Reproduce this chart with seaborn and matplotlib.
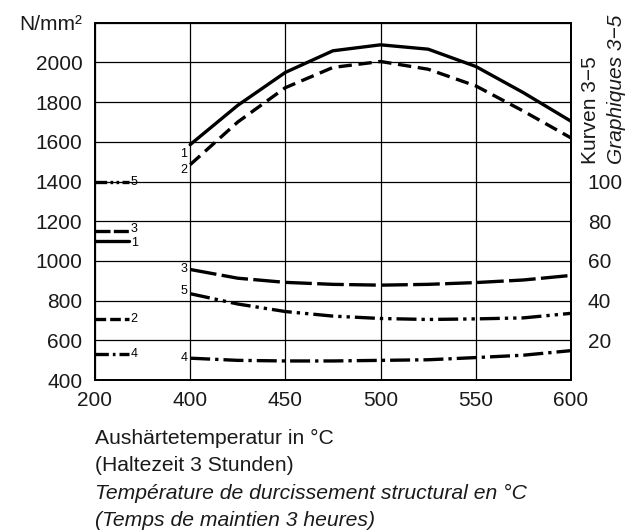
import numpy as np
import matplotlib
matplotlib.use('Agg')
import matplotlib.pyplot as plt
import seaborn as sns

# hardening temperature in degC (holding time 3 h)
temps = [400, 425, 450, 475, 500, 525, 550, 575, 600]

# curves 1-2, read on the left axis (N/mm2)
curve1 = [1586, 1784, 1950, 2059, 2089, 2067, 1980, 1848, 1704]
curve2 = [1485, 1700, 1873, 1975, 2005, 1966, 1882, 1755, 1620]

# curves 3-5, read on the right axis
curve3 = [55.7, 51.3, 49.2, 48.2, 47.8, 48.2, 49.1, 50.4, 52.7]
curve5 = [43.5, 38.3, 34.5, 32.2, 31.0, 30.5, 30.8, 31.3, 33.6]
curve4 = [11.0, 9.9, 9.6, 9.6, 9.9, 10.2, 11.3, 12.5, 14.8]

# starting values, shown as short stubs on the left
start_temps = [200, 272]
start_left = {'1': 1100, '2': 705}
start_right = {'3': 75, '4': 13, '5': 100}

x_ticks = [200, 400, 450, 500, 550, 600]
left_ticks = [400, 600, 800, 1000, 1200, 1400, 1600, 1800, 2000, 2200]
right_ticks = [20, 40, 60, 80, 100]

styles = {
  '1': '-',
  '2': (0, (4, 2)),
  '3': (0, (8, 1.6)),
  '4': (0, (6, 1.5, 1, 1.5)),
  '5': (0, (6, 1.5, 1, 1.5, 1, 1.5)),
}
stub_styles = {
  '1': '-',
  '2': (0, (3.2, 1.2)),
  '3': (0, (4.5, 1)),
  '4': (0, (4, 1.2, 0.8, 1.2)),
  '5': (0, (3.5, 1, 0.8, 1, 0.8, 1)),
}


def fwd(t):
  t = np.asarray(t, dtype=float)
  return np.where(t < 400, (t - 200) / 200, 1 + (t - 400) / 50)


def inv(p):
  p = np.asarray(p, dtype=float)
  return np.where(p < 1, 200 + 200 * p, 400 + 50 * (p - 1))


sns.set_theme(style='white')
plt.rcParams['font.family'] = ['Liberation Sans', 'DejaVu Sans']
plt.rcParams['text.color'] = '#1a1a1a'

fig = plt.figure(figsize=(6.33, 5.3), dpi=100)
ax = fig.add_axes([0.150, 0.283, 0.752, 0.674])
ax.set_xscale('function', functions=(fwd, inv))
ax.set_xlim(200, 600)
ax.set_ylim(400, 2200)
ax2 = ax.twinx()
ax2.set_ylim(0, 180)

lw = 2.4
for name, vals in [('1', curve1), ('2', curve2)]:
  sns.lineplot(x=temps, y=vals, ax=ax, color='black', lw=lw, linestyle=styles[name])
  sns.lineplot(x=start_temps, y=[start_left[name]] * 2, ax=ax, color='black',
               lw=lw, linestyle=stub_styles[name])

for name, vals in [('3', curve3), ('4', curve4), ('5', curve5)]:
  sns.lineplot(x=temps, y=vals, ax=ax2, color='black', lw=lw, linestyle=styles[name])
  sns.lineplot(x=start_temps, y=[start_right[name]] * 2, ax=ax2, color='black',
               lw=lw, linestyle=stub_styles[name])

# curve numbers
lab_kw = dict(fontsize=9, textcoords='offset points', color='black')
ax.annotate('1', (temps[0], curve1[0]), xytext=(-2, -7), ha='right', va='center', **lab_kw)
ax.annotate('2', (temps[0], curve2[0]), xytext=(-2, -4), ha='right', va='center', **lab_kw)
ax2.annotate('3', (temps[0], curve3[0]), xytext=(-2, 0), ha='right', va='center', **lab_kw)
ax2.annotate('5', (temps[0], curve5[0]), xytext=(-2, 2), ha='right', va='center', **lab_kw)
ax2.annotate('4', (temps[0], curve4[0]), xytext=(-2, 0), ha='right', va='center', **lab_kw)
stub_dy = {'1': -1.5, '2': 0, '3': 1.5, '4': 0, '5': 0}
for name, v in start_left.items():
  ax.annotate(name, (start_temps[1], v), xytext=(1, stub_dy[name]), ha='left', va='center', **lab_kw)
for name, v in start_right.items():
  ax2.annotate(name, (start_temps[1], v), xytext=(1, stub_dy[name]), ha='left', va='center', **lab_kw)

# grid and ticks
ax.set_xticks(x_ticks)
ax.set_xticklabels([str(t) for t in x_ticks])
ax.set_yticks(left_ticks)
ax.set_yticklabels([str(v) for v in left_ticks[:-1]] + ['N/mm²'])
ax.grid(True, color='black', lw=0.9)
ax2.set_yticks(right_ticks)
ax2.set_yticklabels([str(v) for v in right_ticks])
ax.tick_params(axis='both', length=0, labelsize=15, colors='#1a1a1a')
ax.tick_params(axis='x', pad=8)
ax.tick_params(axis='y', pad=9)
ax2.tick_params(axis='y', length=0, labelsize=15, pad=12, colors='#1a1a1a')
ax.set_xlabel('')
ax.set_ylabel('')
ax2.set_ylabel('')
for a in (ax, ax2):
  for s in a.spines.values():
    s.set_color('black')
    s.set_linewidth(1.3)

# right axis caption
fig.text(590 / 633, 1 - 164 / 530, 'Kurven 3−5', rotation=90, ha='center', va='bottom', fontsize=15)
fig.text(617 / 633, 1 - 164 / 530, 'Graphiques 3−5', rotation=90, ha='center', va='bottom',
         fontsize=15, style='italic')

# x axis caption
captions = [
  ('Aushärtetemperatur in °C', 'normal'),
  ('(Haltezeit 3 Stunden)', 'normal'),
  ('Température de durcissement structural en °C', 'italic'),
  ('(Temps de maintien 3 heures)', 'italic'),
]
for i, (txt, st) in enumerate(captions):
  fig.text(95 / 633, 1 - (438 + 27.5 * i) / 530, txt, ha='left', va='center',
           fontsize=15.2, style=st)

plt.savefig('out.png', dpi=100)
